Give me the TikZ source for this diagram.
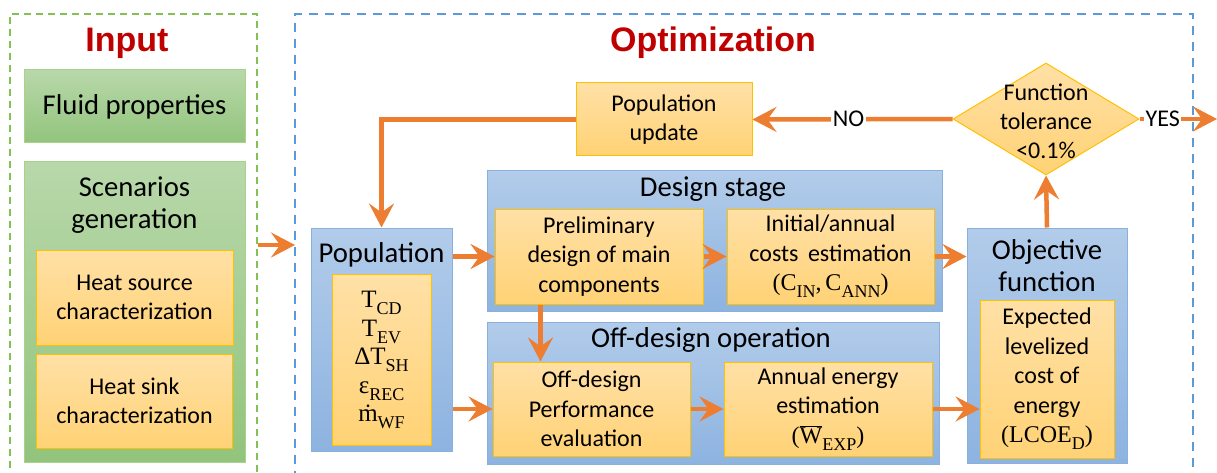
\documentclass[tikz,border=0pt]{standalone}
\usepackage{fontspec}
\setmainfont{Carlito}
\newfontfamily\headfont{Liberation Sans}
\newfontfamily\mfont{Liberation Serif}
\usetikzlibrary{arrows.meta,shapes.geometric,calc}

\definecolor{arrorange}{HTML}{ED7D31}
\definecolor{titlered}{HTML}{C00000}
\definecolor{blueTop}{HTML}{B2CCEA}
\definecolor{blueBot}{HTML}{8DB3E0}
\definecolor{blueLine}{HTML}{8AB0DD}
\definecolor{orTop}{HTML}{FFE0A6}
\definecolor{orBot}{HTML}{FFD275}
\definecolor{orLine}{HTML}{FFC000}
\definecolor{grTop}{HTML}{B8D8AA}
\definecolor{grBot}{HTML}{92C47C}
\definecolor{grLine}{HTML}{A9D18E}
\definecolor{dashGreen}{HTML}{84C155}
\definecolor{dashBlue}{HTML}{5B9BD5}

% serif symbol with a lowered serif subscript
\newcommand{\sbs}[2]{{\mfont #1\raisebox{-0.28em}{\fontsize{18}{18}\selectfont #2}}}

\tikzset{
  box/.style={rectangle, inner sep=0pt, line width=1pt, align=center},
  bluebox/.style={box, draw=blueLine, top color=blueTop, bottom color=blueBot},
  orbox/.style={box, draw=orLine, top color=orTop, bottom color=orBot,
                font=\fontsize{24}{29.5}\selectfont},
  grbox/.style={box, draw=grLine, top color=grTop, bottom color=grBot},
  boxtitle/.style={inner sep=0pt, align=center, font=\fontsize{28.7}{32}\selectfont},
  redtitle/.style={inner sep=0pt, text=titlered, font=\headfont\bfseries\fontsize{34}{40}\selectfont},
  frame/.style={line width=2pt},
  arr/.style={draw=arrorange, line width=4.5pt,
              -{Stealth[length=24pt,width=25pt,inset=9pt]}},
  decision/.style={diamond, draw=orLine, line width=1pt, top color=orTop,
                   bottom color=orBot, inner sep=0pt, minimum width=186pt,
                   minimum height=112pt},
  lbl/.style={fill=white, inner sep=1.5pt, font=\fontsize{24}{28}\selectfont}
}

\begin{document}
\begin{tikzpicture}[x=1pt,y=-1pt]
\useasboundingbox (0,0) rectangle (1217,473);

% dashed frames of the two stages
\draw[frame, draw=dashGreen, dash pattern=on 7pt off 5pt]
  (10,480) -- (10,14) -- (257,14) -- (257,480);
\draw[frame, draw=dashBlue, dash pattern=on 9pt off 7pt]
  (295,480) -- (295,14) -- (1193,14) -- (1193,480);

\node[redtitle] (tin) at (127,43) {Input};
\node[redtitle] (topt) at (713,43) {Optimization};

% input column
\node[grbox, minimum width=221pt, minimum height=73pt,
      font=\fontsize{28.7}{32}\selectfont] (fluid) at (134.5,106.5) {Fluid properties};
\node[grbox, minimum width=221pt, minimum height=300pt] (scen) at (134.5,312) {};
\node[boxtitle] (scent) at (134.5,205) {Scenarios\\generation};
\node[orbox, minimum width=197pt, minimum height=95pt] (hsrc) at (134.5,297.5)
  {Heat source\\characterization};
\node[orbox, minimum width=196pt, minimum height=94pt] (hsnk) at (134.5,401)
  {Heat sink\\characterization};

% population
\node[bluebox, minimum width=141pt, minimum height=223pt] (pop) at (381.5,339.5) {};
\node[boxtitle] (popt) at (381.5,255) {Population};
\node[orbox, minimum width=99pt, minimum height=171pt,
      font=\mfont\fontsize{25}{28.5}\selectfont] (popv) at (381.5,360)
  {\sbs{T}{CD}\\ \sbs{T}{EV}\\ \sbs{ΔT}{SH}\\ \sbs{ε}{REC}\\ \sbs{ṁ}{WF}};

% design stage
\node[bluebox, minimum width=455pt, minimum height=140pt] (dstage) at (714.5,241) {};
\node[boxtitle] (dstaget) at (713,189) {Design stage};
\node[orbox, minimum width=208pt, minimum height=95pt] (prelim) at (599,256.5)
  {Preliminary\\design of main\\components};
\node[orbox, minimum width=207pt, minimum height=95pt] (costs) at (830.5,256.5)
  {Initial/annual\\costs\, estimation\\{\mfont (\sbs{C}{IN},\,\sbs{C}{ANN})}};

% off-design operation
\node[bluebox, minimum width=452pt, minimum height=142pt] (odop) at (713,393) {};
\node[boxtitle] (odopt) at (711,340) {Off-design operation};
\node[orbox, minimum width=197pt, minimum height=94pt] (offperf) at (591.5,409)
  {Off-design\\Performance\\evaluation};
\node[orbox, minimum width=208pt, minimum height=94pt] (annual) at (828,409)
  {Annual energy\\estimation\\{\mfont (\sbs{$\overline{\hbox{\mfont W}}$}{EXP})}};

% objective function
\node[bluebox, minimum width=160pt, minimum height=235pt] (obj) at (1047,345.5) {};
\node[boxtitle] (objt) at (1047,266) {Objective\\function};
\node[orbox, minimum width=134pt, minimum height=158pt] (lcoe) at (1047,379)
  {Expected\\levelized\\cost of\\energy\\{\mfont (\sbs{LCOE}{D})}};

% convergence check and update
\node[decision] (tol) at (1046,119) {};
\node[inner sep=0pt, align=center, font=\fontsize{24}{29}\selectfont] (tolt) at (1046,121)
  {Function\\tolerance\\<0.1\%};
\node[orbox, minimum width=176pt, minimum height=73pt] (popupd) at (664,119.5)
  {Population\\update};

% free ends of connectors
\coordinate (inS) at (258,245);
\coordinate (inE) at (295,245);
\coordinate (yesE) at (1217,119);
\coordinate (pdown) at ($(prelim.south west)!0.22!(prelim.south east)$);

% connectors
\draw[arr] (inS) -- (inE);
\draw[arr] (pop.east |- prelim.west) -- (prelim.west);
\draw[arr] (pop.east |- offperf.west) -- (offperf.west);
\draw[arr] (pdown) -- (pdown |- offperf.north);
\draw[arr] (prelim.east) -- (costs.west);
\draw[arr] (costs.east) -- (costs.east -| obj.west);
\draw[arr] (offperf.east) -- (annual.west);
\draw[arr] (annual.east) -- (annual.east -| lcoe.west);
\draw[arr] (obj.north) -- (tol.south);
\draw[arr] (tol.west) -- node[lbl, pos=0.52] (no) {NO} (popupd.east);
\draw[arr] (popupd.west) -- (pop.north |- popupd.west) -- (pop.north);
\draw[arr] (tol.east) -- node[lbl, pos=0.3] (yes) {YES} (yesE);
\end{tikzpicture}
\end{document}
